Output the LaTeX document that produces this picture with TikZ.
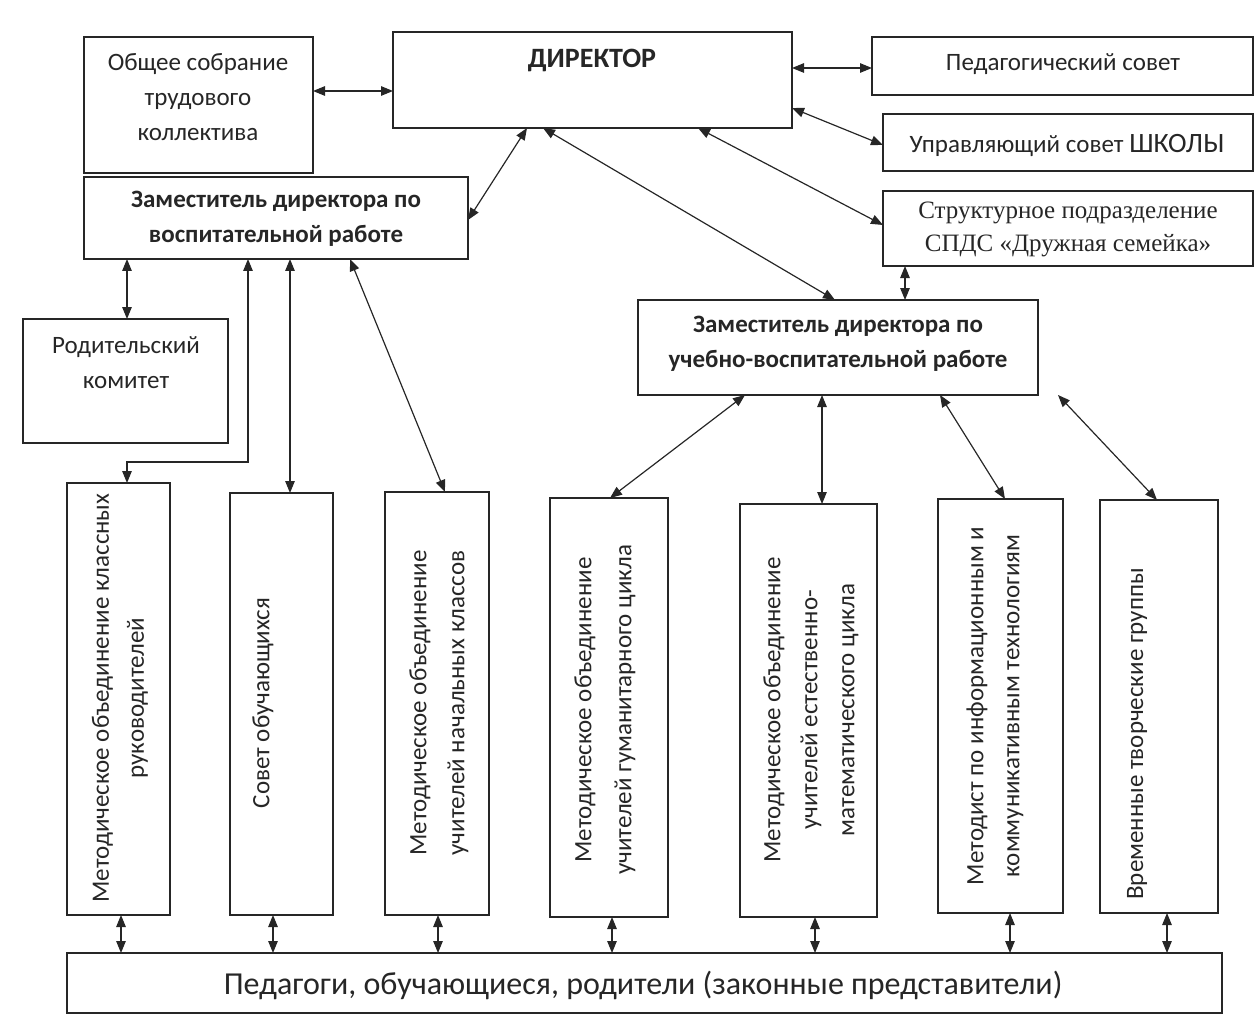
\documentclass[tikz,border=0pt]{standalone}
\usepackage{fontspec}
\setmainfont{Carlito}
\newfontfamily\tnrfont{Liberation Serif}
\usetikzlibrary{arrows.meta}
\definecolor{ink}{HTML}{262626}
\begin{document}
\begin{tikzpicture}[x=1pt,y=-1pt,
  box/.style={draw=ink, line width=1.4pt, rectangle, inner sep=0pt, outer sep=0pt},
  lbl/.style={text=ink, font=\fontsize{25}{35}\selectfont, align=center, inner sep=0pt},
  blbl/.style={lbl, font=\fontsize{25}{35}\selectfont\bfseries},
  vlbl/.style={lbl, rotate=90, font=\fontsize{25}{37}\selectfont},
  arr/.style={draw=ink, line width=1.2pt, {Triangle[length=12pt,width=9.5pt]}-{Triangle[length=12pt,width=9.5pt]}}]
\useasboundingbox (0,0) rectangle (1256,1035);
% boxes
\node[box, minimum width=229pt, minimum height=136pt] (obs) at (198.5,105) {};
\node[box, minimum width=384pt, minimum height=82pt] (zv) at (276,218) {};
\node[box, minimum width=399pt, minimum height=96pt] (dir) at (592.5,80) {};
\node[box, minimum width=381pt, minimum height=58pt] (ped) at (1062.5,66) {};
\node[box, minimum width=370pt, minimum height=57pt] (upr) at (1068,142.5) {};
\node[box, minimum width=370pt, minimum height=75pt] (spds) at (1068,228.5) {};
\node[box, minimum width=205pt, minimum height=124pt] (rod) at (125.5,381) {};
\node[box, minimum width=400pt, minimum height=95pt] (zu) at (838,347.5) {};
\node[box, minimum width=103pt, minimum height=432pt] (mA) at (118.5,699) {};
\node[box, minimum width=103pt, minimum height=422pt] (mB) at (281.5,704) {};
\node[box, minimum width=104pt, minimum height=423pt] (mC) at (437,703.5) {};
\node[box, minimum width=118pt, minimum height=419pt] (mD) at (609,707.5) {};
\node[box, minimum width=137pt, minimum height=413pt] (mE) at (808.5,710.5) {};
\node[box, minimum width=125pt, minimum height=414pt] (mF) at (1000.5,706) {};
\node[box, minimum width=118pt, minimum height=413pt] (mG) at (1159,706.5) {};
\node[box, minimum width=1155pt, minimum height=60pt] (bot) at (644.5,983) {};
% texts
\node[lbl] (tobs) at (198,97) {Общее собрание\\трудового\\коллектива};
\node[blbl] (tzv) at (276,219) {Заместитель директора по\\воспитательной работе};
\node[blbl, font=\fontsize{28}{34}\selectfont\bfseries] (tdir) at (592,60) {ДИРЕКТОР};
\node[lbl] (tped) at (1063,64) {Педагогический совет};
\node[lbl] (tupr) at (1067,145) {Управляющий совет {\fontsize{28}{34}\selectfont ШКОЛЫ}};
\node[lbl, font=\fontsize{25}{33}\selectfont\tnrfont] (tspds) at (1068,229) {Структурное подразделение\\СПДС «Дружная семейка»};
\node[lbl] (trod) at (126,363) {Родительский\\комитет};
\node[blbl] (tzu) at (838,344) {Заместитель директора по\\учебно-воспитательной работе};
\node[vlbl, font=\fontsize{25}{35}\selectfont] (tA) at (120,698) {Методическое объединение классных\\руководителей};
\node[vlbl] (tB) at (263,703) {Совет обучающихся};
\node[vlbl, font=\fontsize{25}{38}\selectfont] (tC) at (439,703) {Методическое объединение\\учителей начальных классов};
\node[vlbl, font=\fontsize{25}{40}\selectfont] (tD) at (605,710) {Методическое объединение\\учителей гуманитарного цикла};
\node[vlbl] (tE) at (811,710) {Методическое объединение\\учителей естественно-\\математического цикла};
\node[vlbl, font=\fontsize{25}{36}\selectfont] (tF) at (995,706) {Методист по информационным и\\коммуникативным технологиям};
\node[vlbl] (tG) at (1137,734) {Временные творческие группы};
\node[lbl, font=\fontsize{32}{38}\selectfont] (tbot) at (643,985) {Педагоги, обучающиеся, родители (законные представители)};
% connectors
\draw[arr] ([yshift=14pt]obs.east) -- ([yshift=14pt]obs.east -| dir.west);
\draw[arr] ([yshift=12pt]dir.east) -- ([yshift=12pt]dir.east -| ped.west);
\draw[arr] ([yshift=20pt]dir.south east) -- ([yshift=-2.5pt]upr.west);
\draw[arr] ([xshift=305pt]dir.south west) -- ([yshift=3.5pt]spds.west);
\draw[arr] ([xshift=134pt]dir.south west) -- ([yshift=-2pt]zv.east);
\draw[arr] ([xshift=150pt]dir.south west) -- ([xshift=197pt]zu.north west);
\draw[arr] ([xshift=22pt]spds.south west) -- ([xshift=22pt]spds.south west |- zu.north);
\draw[arr] ([xshift=43pt]zv.south west) -- ([xshift=43pt]zv.south west |- rod.north);
\draw[arr] ([xshift=164pt]zv.south west) -- ++(0,203) -| ([xshift=60pt]mA.north west);
\draw[arr] ([xshift=206pt]zv.south west) -- ([xshift=206pt]zv.south west |- mB.north);
\draw[arr] ([xshift=266pt]zv.south west) -- ([xshift=60pt]mC.north west);
\draw[arr] ([xshift=107pt]zu.south west) -- ([xshift=60pt]mD.north west);
\draw[arr] ([xshift=184pt]zu.south west) -- ([xshift=184pt]zu.south west |- mE.north);
\draw[arr] ([xshift=302pt]zu.south west) -- ([xshift=67pt]mF.north west);
\draw[arr] ([xshift=20pt]zu.south east) -- ([xshift=57pt]mG.north west);
\draw[arr] ([xshift=54pt]mA.south west) -- ([xshift=54pt]mA.south west |- bot.north);
\draw[arr] ([xshift=43pt]mB.south west) -- ([xshift=43pt]mB.south west |- bot.north);
\draw[arr] ([xshift=53pt]mC.south west) -- ([xshift=53pt]mC.south west |- bot.north);
\draw[arr] ([xshift=62pt]mD.south west) -- ([xshift=62pt]mD.south west |- bot.north);
\draw[arr] ([xshift=75pt]mE.south west) -- ([xshift=75pt]mE.south west |- bot.north);
\draw[arr] ([xshift=72pt]mF.south west) -- ([xshift=72pt]mF.south west |- bot.north);
\draw[arr] ([xshift=67pt]mG.south west) -- ([xshift=67pt]mG.south west |- bot.north);
\end{tikzpicture}
\end{document}
